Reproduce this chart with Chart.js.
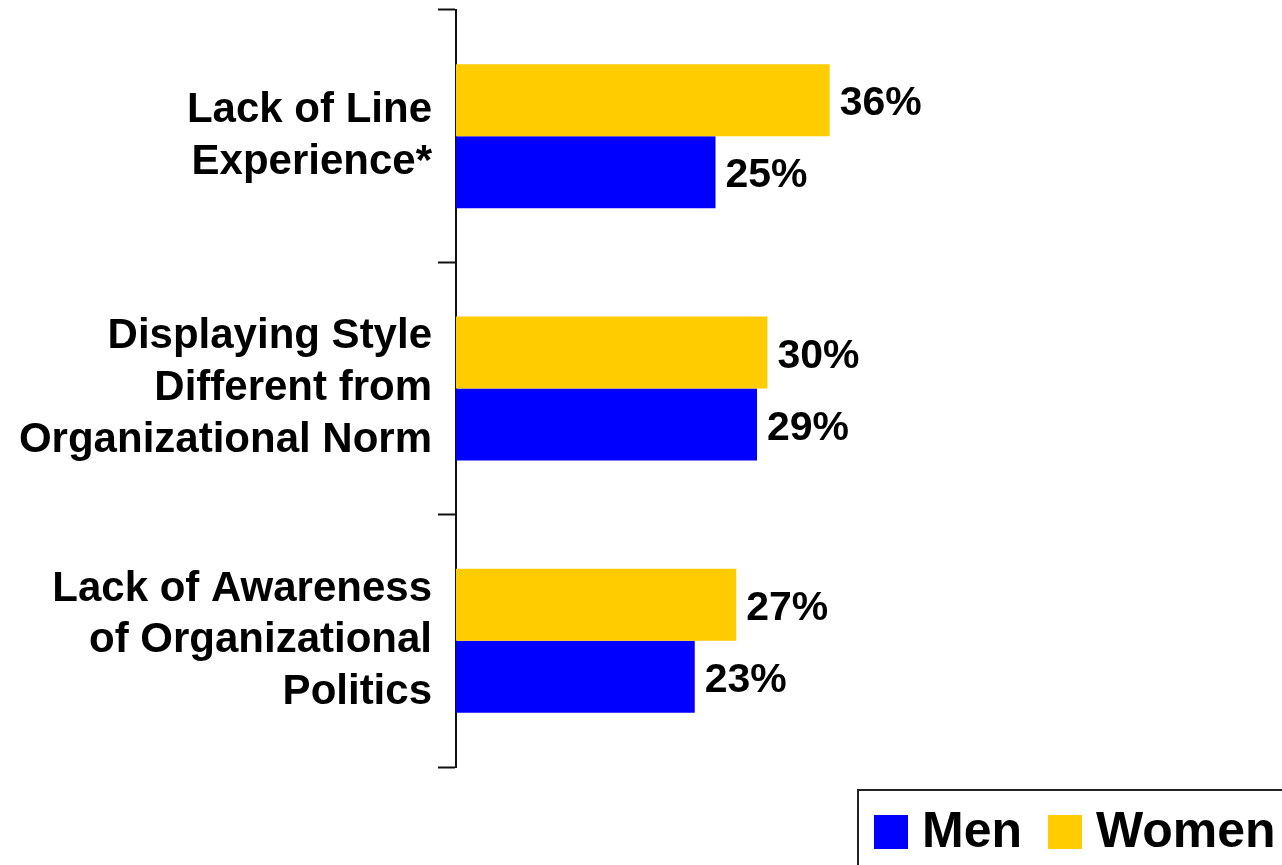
<!DOCTYPE html>
<html>
<head>
<meta charset="utf-8">
<script src="https://cdn.jsdelivr.net/npm/chart.js@4.4.1/dist/chart.umd.min.js"></script>
<style>
  body { margin: 0; overflow: hidden; background: #fff; }
  #wrap { position: relative; width: 1282px; height: 865px; }
  #legend {
    position: absolute; left: 857px; top: 789px;
    width: 600px; height: 120px;
    border: 2px solid #222; box-sizing: border-box;
    display: flex; align-items: center;
    padding: 0 0 38px 15px;
    font: bold 50px "Liberation Sans", Arial, sans-serif;
    color: #000;
  }
  #legend .item { display: flex; align-items: center; margin-right: 26px; }
  #legend .box { width: 34px; height: 34px; margin-right: 14px; margin-top: 4px; }
</style>
</head>
<body>
<div id="wrap">
  <canvas id="chart" width="1282" height="865"></canvas>
  <div id="legend"></div>
</div>
<script>
const categories = [
  ['Lack of Line', 'Experience*'],
  ['Displaying Style', 'Different from', 'Organizational Norm'],
  ['Lack of Awareness', 'of Organizational', 'Politics']
];
const women = [36, 30, 27];
const men = [25, 29, 23];

const FONT = '"Liberation Sans", Arial, sans-serif';

// percent labels at the end of every bar
const valueLabels = {
  id: 'valueLabels',
  afterDatasetsDraw(chart) {
    const ctx = chart.ctx;
    ctx.save();
    ctx.font = 'bold 41px ' + FONT;
    ctx.fillStyle = '#000';
    ctx.textAlign = 'left';
    ctx.textBaseline = 'middle';
    chart.data.datasets.forEach((ds, i) => {
      chart.getDatasetMeta(i).data.forEach((bar, j) => {
        ctx.fillText(ds.data[j] + '%', bar.x + 10, bar.y + 4);
      });
    });
    ctx.restore();
  }
};

const chart = new Chart(document.getElementById('chart'), {
  type: 'bar',
  data: {
    labels: categories,
    datasets: [
      { label: 'Women', data: women, backgroundColor: '#FFCC00' },
      { label: 'Men', data: men, backgroundColor: '#0000FF' }
    ]
  },
  options: {
    indexAxis: 'y',
    responsive: false,
    animation: false,
    categoryPercentage: 0.571,
    barPercentage: 1.0,
    layout: { padding: { top: 10, bottom: 98, left: 0, right: 307 } },
    plugins: {
      legend: { display: false },
      tooltip: { enabled: false }
    },
    scales: {
      x: { display: false, min: 0, max: 50 },
      y: {
        afterFit(scale) {
          // fixed axis position, and no extra room for the tall labels
          scale.width = 456;
          scale.paddingTop = 0;
          scale.paddingBottom = 0;
        },
        grid: {
          drawOnChartArea: false,
          drawTicks: true,
          tickLength: 18,
          tickWidth: 2,
          tickColor: '#111',
          offset: true
        },
        border: { display: true, color: '#111', width: 2 },
        ticks: {
          color: '#000',
          padding: 6,
          font: { family: FONT, size: 42, weight: 'bold', lineHeight: 1.23 }
        }
      }
    }
  },
  plugins: [valueLabels]
});

// legend: Men first, then Women
const legend = document.getElementById('legend');
chart.data.datasets.slice().reverse().forEach(ds => {
  const item = document.createElement('div');
  item.className = 'item';
  const box = document.createElement('span');
  box.className = 'box';
  box.style.background = ds.backgroundColor;
  item.appendChild(box);
  item.appendChild(document.createTextNode(ds.label));
  legend.appendChild(item);
});
</script>
</body>
</html>
